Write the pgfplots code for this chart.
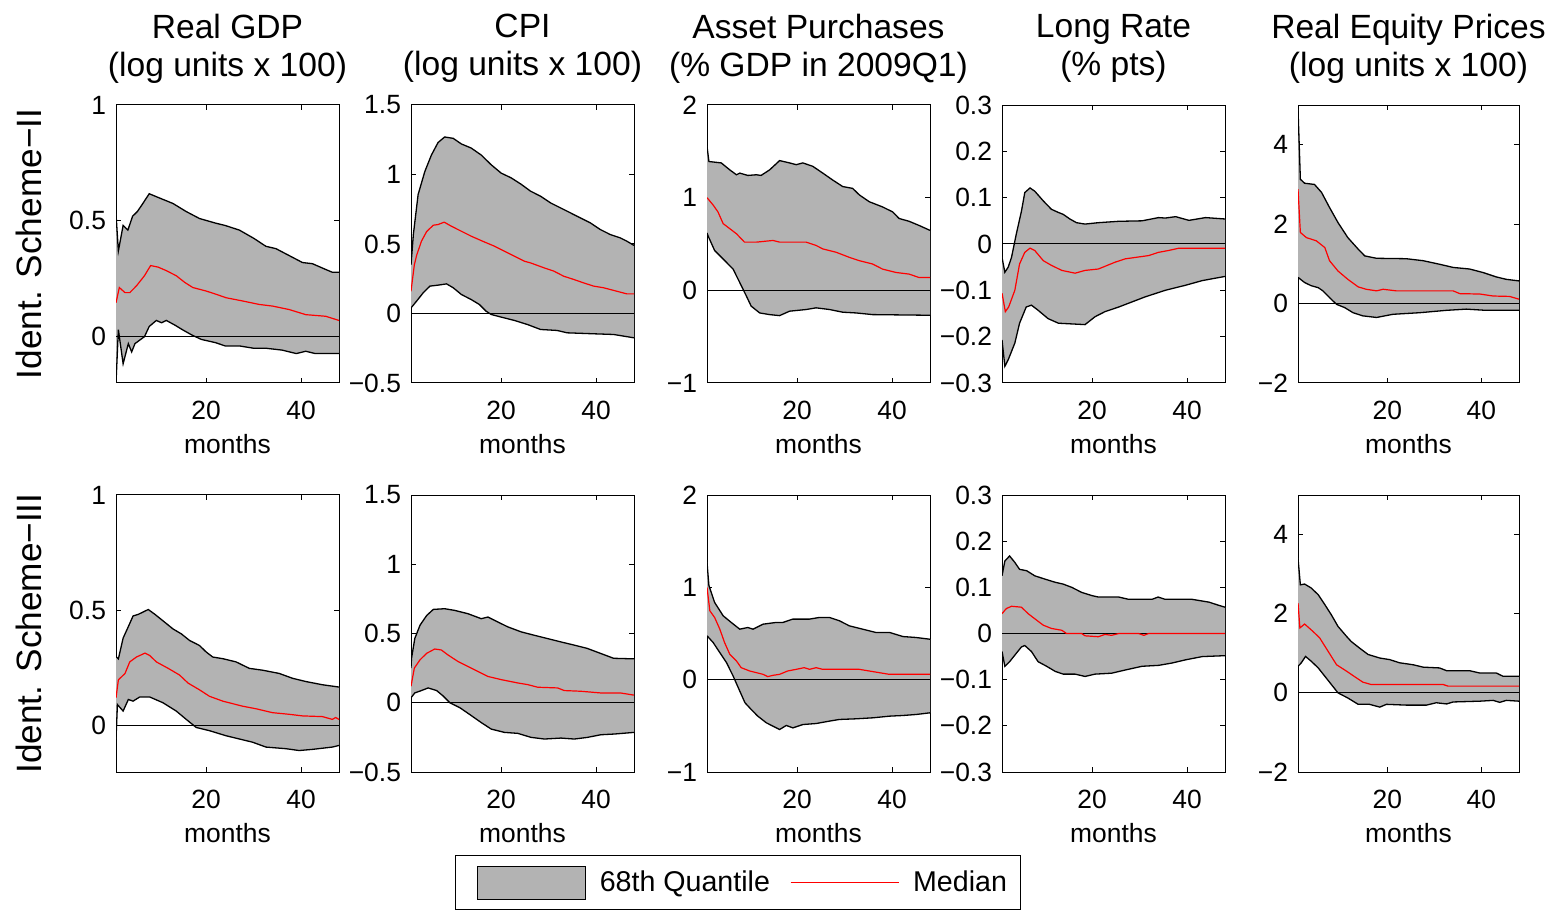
\documentclass[border=0pt]{standalone}
\usepackage{fontspec}
\setmainfont{Liberation Sans}
\usepackage{pgfplots}
\pgfplotsset{compat=1.18}
\usepgfplotslibrary{fillbetween}
\definecolor{bandgray}{RGB}{179,179,179}
\pgfplotsset{
 irf/.style={
  scale only axis, width=111.5pt, height=139pt,
  xmin=1, xmax=48, xtick={20,40}, xticklabels={20,40},
  tick align=inside, major tick length=2.5pt,
  tick style={black, line width=0.5pt},
  axis line style={line width=0.5pt},
  xlabel={months},
  every axis x label/.style={at={(axis description cs:0.5,0)}, anchor=center, yshift=-30.5pt, font=\fontsize{13.2}{15}\selectfont},
  ticklabel style={font=\fontsize{13.2}{15}\selectfont},
  xticklabel shift=5.5pt, yticklabel shift=1.5pt,
  title style={at={(axis description cs:0.5,1.16)}, anchor=center, align=center, font=\fontsize{16.8}{19}\selectfont},
  every axis y label/.style={at={(axis description cs:-0.39,0.5)}, rotate=90, anchor=center, font=\fontsize{17.6}{20}\selectfont},
 },
 bnd/.style={black, line width=0.65pt, forget plot},
 med/.style={red, line width=0.6pt, forget plot},
 zer/.style={black, line width=0.5pt, forget plot},
}
\begin{document}
\begin{tikzpicture}
% ---------------- Row 1 ----------------
\begin{axis}[irf, at={(58pt,-191.5pt)}, anchor=south west,
 ymin=-0.2, ymax=1, ytick={0,0.5,1}, yticklabels={0,0.5,1},
 title={Real GDP\\(log units x 100)}, ylabel={Ident. Scheme−II}]
\addplot[bnd, name path=u1] coordinates {(1,0.53) (1.5,0.37) (2.5,0.48) (3.5,0.46) (4.5,0.52) (5.5,0.54) (6.5,0.57) (8,0.617) (10,0.60) (13,0.575) (15.8,0.54) (18.6,0.51) (22,0.49) (24,0.48) (27,0.46) (30,0.425) (32.6,0.39) (34.7,0.38) (37.5,0.35) (40.3,0.32) (42.4,0.315) (45.2,0.29) (46.6,0.278) (48,0.278)};
\addplot[bnd, name path=l1] coordinates {(1,-0.2) (1.5,0.03) (2.5,-0.117) (3.6,-0.03) (4.3,-0.066) (5,-0.03) (6,-0.015) (7,0) (8,0.044) (9.5,0.07) (10.6,0.06) (11.6,0.07) (13.4,0.05) (15,0.03) (17,0.007) (19,-0.012) (22,-0.026) (24,-0.04) (27,-0.04) (30,-0.05) (32.6,-0.05) (36,-0.058) (39,-0.073) (41,-0.063) (43,-0.073) (48,-0.073)};
\addplot[bandgray, forget plot] fill between[of=u1 and l1];
\addplot[zer] coordinates {(1,0) (48,0)};
\addplot[med] coordinates {(1,0.146) (1.7,0.212) (2.9,0.19) (3.9,0.19) (5.3,0.219) (7,0.263) (8.3,0.307) (9.9,0.30) (11.6,0.285) (13.7,0.263) (15.5,0.234) (17.2,0.212) (20,0.197) (22.1,0.183) (24.2,0.168) (27.7,0.154) (31.2,0.139) (34,0.132) (37.5,0.117) (41,0.095) (45.2,0.088) (48,0.07)};
\end{axis}
\begin{axis}[irf, at={(205.5pt,-191.5pt)}, anchor=south west,
 ymin=-0.5, ymax=1.5, ytick={-0.5,0,0.5,1,1.5}, yticklabels={−0.5,0,0.5,1,1.5},
 title={CPI\\(log units x 100)}]
\addplot[bnd, name path=u2] coordinates {(1,0.35) (1.5,0.57) (2.5,0.856) (3.9,1.02) (5.3,1.14) (6.7,1.23) (8.1,1.27) (9.9,1.26) (11.6,1.22) (13.7,1.19) (15.8,1.14) (17.9,1.07) (20,1.01) (22.1,0.976) (24.2,0.93) (26.2,0.88) (28.3,0.844) (30.4,0.796) (32.5,0.76) (34.6,0.724) (36.7,0.688) (38.8,0.652) (40.9,0.604) (43,0.568) (45.1,0.544) (46.5,0.52) (48,0.49)};
\addplot[bnd, name path=l2] coordinates {(1,0.04) (2.2,0.09) (3.6,0.15) (5,0.197) (6.7,0.204) (8.5,0.213) (9.9,0.185) (11.6,0.137) (13.7,0.10) (15.4,0.065) (16.8,0.017) (17.9,-0.007) (20,-0.026) (22.8,-0.05) (25.6,-0.08) (28.3,-0.115) (31.8,-0.122) (33.9,-0.139) (39.5,-0.146) (43.7,-0.151) (48,-0.175)};
\addplot[bandgray, forget plot] fill between[of=u2 and l2];
\addplot[zer] coordinates {(1,0) (48,0)};
\addplot[med] coordinates {(1,0.16) (1.7,0.35) (2.2,0.42) (3.2,0.52) (4.3,0.59) (5.7,0.635) (6.7,0.64) (8,0.657) (9.5,0.628) (11.6,0.592) (13.7,0.556) (16.1,0.52) (18.6,0.484) (20.7,0.448) (22.8,0.412) (24.9,0.376) (26.2,0.364) (29,0.329) (31.1,0.305) (33.2,0.268) (35.3,0.245) (37.4,0.22) (39.5,0.197) (41.6,0.185) (44.4,0.16) (46.5,0.141) (48,0.141)};
\end{axis}
\begin{axis}[irf, at={(353.5pt,-191.5pt)}, anchor=south west,
 ymin=-1, ymax=2, ytick={-1,0,1,2}, yticklabels={−1,0,1,2},
 title={Asset Purchases\\(\% GDP in 2009Q1)}]
\addplot[bnd, name path=u3] coordinates {(1,1.556) (1.4,1.39) (4,1.375) (5.8,1.30) (7.2,1.247) (7.9,1.265) (9.6,1.24) (11.4,1.247) (12.4,1.24) (14.2,1.30) (16.3,1.40) (18.4,1.375) (19.8,1.356) (21.2,1.375) (23.3,1.338) (25.4,1.265) (27.5,1.19) (29.6,1.12) (31.7,1.10) (33.1,1.03) (35.2,0.956) (38,0.90) (40.1,0.847) (41.5,0.775) (43.6,0.745) (45.7,0.70) (48,0.647)};
\addplot[bnd, name path=l3] coordinates {(1,0.62) (1.2,0.59) (2.6,0.43) (4.4,0.338) (6.5,0.229) (7.9,0.084) (9.3,-0.062) (10.3,-0.17) (12.1,-0.244) (14.2,-0.262) (16.3,-0.273) (18.4,-0.225) (21.9,-0.207) (24,-0.189) (26.8,-0.207) (29.6,-0.236) (32.4,-0.244) (35.9,-0.262) (48,-0.269)};
\addplot[bandgray, forget plot] fill between[of=u3 and l3];
\addplot[zer] coordinates {(1,0) (48,0)};
\addplot[med] coordinates {(1,1.0) (2.3,0.92) (3.3,0.847) (4.4,0.72) (5.8,0.665) (7.2,0.611) (8.9,0.52) (11.4,0.52) (14.9,0.538) (16.3,0.52) (18.4,0.52) (21.9,0.52) (24,0.484) (25.4,0.447) (28.2,0.411) (31,0.356) (33.1,0.32) (35.9,0.284) (38,0.229) (40.8,0.193) (43.6,0.175) (45.7,0.138) (48,0.138)};
\end{axis}
\begin{axis}[irf, at={(501pt,-191.5pt)}, anchor=south west,
 ymin=-0.3, ymax=0.3, ytick={-0.3,-0.2,-0.1,0,0.1,0.2,0.3}, yticklabels={−0.3,−0.2,−0.1,0,0.1,0.2,0.3},
 title={Long Rate\\(\% pts)}]
\addplot[bnd, name path=u4] coordinates {(1,-0.029) (1.6,-0.061) (2.3,-0.05) (3,-0.029) (4,0.021) (5.1,0.071) (5.8,0.111) (6.9,0.121) (7.9,0.114) (9.7,0.093) (11.4,0.075) (12.9,0.068) (13.9,0.064) (15.3,0.054) (16.7,0.046) (18.5,0.043) (21.3,0.046) (25.6,0.049) (30.5,0.05) (34,0.057) (35.4,0.056) (37.6,0.059) (40.4,0.051) (43.9,0.057) (48,0.054)};
\addplot[bnd, name path=l4] coordinates {(1,-0.207) (1.6,-0.264) (2.3,-0.25) (3.7,-0.214) (4.7,-0.171) (6.1,-0.136) (7.2,-0.132) (8.6,-0.143) (10.7,-0.161) (12.9,-0.171) (18.5,-0.174) (20.6,-0.157) (22.7,-0.146) (25.6,-0.136) (28.4,-0.125) (31.2,-0.114) (33.3,-0.107) (35.4,-0.1) (39.7,-0.089) (43.2,-0.079) (48,-0.07)};
\addplot[bandgray, forget plot] fill between[of=u4 and l4];
\addplot[zer] coordinates {(1,0) (48,0)};
\addplot[med] coordinates {(1,-0.106) (1.7,-0.146) (2.4,-0.136) (3.7,-0.1) (4.7,-0.043) (5.8,-0.018) (6.9,-0.009) (7.9,-0.014) (9.7,-0.036) (11.4,-0.046) (13.6,-0.057) (16.4,-0.063) (18.5,-0.057) (21.3,-0.054) (24.9,-0.039) (27,-0.032) (29.1,-0.029) (31.9,-0.025) (34,-0.018) (36.1,-0.014) (38.3,-0.009) (48,-0.009)};
\end{axis}
\begin{axis}[irf, width=110.5pt, at={(649pt,-191.5pt)}, anchor=south west,
 ymin=-2, ymax=5, ytick={-2,0,2,4}, yticklabels={−2,0,2,4},
 title={Real Equity Prices\\(log units x 100)}]
\addplot[bnd, name path=u5] coordinates {(1,4.9) (1.5,3.13) (2.4,3.03) (4.5,3.0) (6,2.8) (7.7,2.42) (9.5,2.04) (11.6,1.66) (13.8,1.37) (15.2,1.2) (17.7,1.14) (24,1.13) (27.6,1.08) (31.1,0.99) (34,0.91) (37.5,0.87) (40.4,0.78) (43.2,0.67) (45.3,0.61) (48,0.57)};
\addplot[bnd, name path=l5] coordinates {(1,0.66) (2.4,0.53) (3.8,0.45) (5.3,0.40) (6.3,0.32) (7.7,0.15) (9.2,-0.02) (10.9,-0.1) (12.7,-0.23) (14.8,-0.31) (17.7,-0.35) (21.2,-0.27) (26.9,-0.23) (32.6,-0.17) (36.8,-0.14) (40.9,-0.17) (48,-0.17)};
\addplot[bandgray, forget plot] fill between[of=u5 and l5];
\addplot[zer] coordinates {(1,0) (48,0)};
\addplot[med] coordinates {(1,2.88) (1.5,1.79) (2.8,1.66) (4.9,1.58) (6.7,1.41) (7.7,1.08) (9.5,0.82) (11.6,0.61) (13.8,0.42) (15.5,0.36) (17.7,0.32) (19.1,0.36) (21.9,0.32) (34,0.32) (35.4,0.25) (39.7,0.24) (42.5,0.19) (46,0.18) (48,0.11)};
\end{axis}
% ---------------- Row 2 ----------------
\begin{axis}[irf, height=138.5pt, at={(58pt,-386pt)}, anchor=south west,
 ymin=-0.2, ymax=1, ytick={0,0.5,1}, yticklabels={0,0.5,1},
 ylabel={Ident. Scheme−III}]
\addplot[bnd, name path=u6] coordinates {(1,0.30) (1.5,0.29) (2.5,0.38) (3.6,0.43) (4.6,0.476) (5.7,0.483) (7.8,0.504) (9.2,0.483) (10.9,0.455) (13,0.42) (14.8,0.398) (16.5,0.37) (18.6,0.348) (20,0.32) (21.4,0.298) (23.5,0.291) (26.3,0.277) (29.1,0.249) (31.9,0.241) (35.4,0.227) (38.2,0.206) (41,0.192) (44.5,0.178) (48,0.168)};
\addplot[bnd, name path=l6] coordinates {(1,-0.057) (1.3,0.092) (2.5,0.064) (3.6,0.114) (4.6,0.107) (6,0.125) (8.1,0.125) (10.9,0.1) (13.7,0.064) (15.8,0.028) (17.9,-0.007) (20.7,-0.021) (24.2,-0.043) (27,-0.057) (29.8,-0.071) (32.6,-0.092) (36.8,-0.099) (39.6,-0.107) (42.4,-0.102) (46.6,-0.092) (48,-0.085)};
\addplot[bandgray, forget plot] fill between[of=u6 and l6];
\addplot[zer] coordinates {(1,0) (48,0)};
\addplot[med] coordinates {(1,0.121) (1.5,0.199) (2.9,0.227) (3.9,0.277) (5.3,0.298) (7.1,0.315) (8.1,0.305) (9.5,0.277) (12,0.249) (14.4,0.22) (16.2,0.185) (18.6,0.156) (20.7,0.128) (23.5,0.107) (27.7,0.085) (30.5,0.074) (34,0.057) (37.5,0.05) (40.3,0.043) (44.5,0.04) (46.6,0.028) (47.3,0.036) (48,0.028)};
\end{axis}
\begin{axis}[irf, height=138.5pt, at={(205.5pt,-386pt)}, anchor=south west,
 ymin=-0.5, ymax=1.5, ytick={-0.5,0,0.5,1,1.5}, yticklabels={−0.5,0,0.5,1,1.5}]
\addplot[bnd, name path=u7] coordinates {(1,0.25) (1.1,0.32) (1.8,0.464) (2.9,0.56) (4.3,0.63) (5.7,0.674) (8.1,0.679) (10.2,0.667) (13,0.643) (15.8,0.607) (17.2,0.619) (19.3,0.583) (21.4,0.548) (24.2,0.512) (26.9,0.488) (29.7,0.464) (32.5,0.44) (35.3,0.417) (38.1,0.393) (40.9,0.357) (43.7,0.321) (48,0.317)};
\addplot[bnd, name path=l7] coordinates {(1,0.036) (1.8,0.071) (3.2,0.088) (4.6,0.107) (6.4,0.088) (7.8,0.048) (9.2,0) (11.3,-0.036) (13.3,-0.083) (15.8,-0.143) (17.9,-0.19) (20.7,-0.214) (23.5,-0.221) (26.3,-0.25) (29.1,-0.262) (32.6,-0.255) (35.4,-0.262) (38.2,-0.25) (41,-0.231) (43.8,-0.226) (48,-0.214)};
\addplot[bandgray, forget plot] fill between[of=u7 and l7];
\addplot[zer] coordinates {(1,0) (48,0)};
\addplot[med] coordinates {(1,0.119) (1.7,0.25) (2.9,0.31) (4.3,0.357) (6,0.388) (7.4,0.381) (8.8,0.345) (10.9,0.298) (13,0.262) (15.1,0.226) (17.2,0.19) (20,0.167) (23.5,0.143) (25.6,0.131) (27.7,0.112) (31.9,0.107) (33.3,0.088) (36.8,0.083) (40.9,0.071) (45.1,0.071) (48,0.055)};
\end{axis}
\begin{axis}[irf, height=138.5pt, at={(353.5pt,-386pt)}, anchor=south west,
 ymin=-1, ymax=2, ytick={-1,0,1,2}, yticklabels={−1,0,1,2},
 legend columns=2,
 legend style={at={(-1.130,-0.2996)}, anchor=north west, draw=black, line width=0.6pt,
   font=\fontsize{14.3}{16}\selectfont, inner xsep=4.8pt, inner ysep=5pt,
   /tikz/every even column/.append style={column sep=8pt},
   /tikz/every odd column/.append style={column sep=5pt}},
 legend cell align=left]
\addplot[bnd, name path=u8] coordinates {(1,1.27) (1.4,1.02) (2.6,0.837) (4.4,0.692) (6.1,0.62) (7.9,0.547) (9.6,0.565) (10.7,0.547) (12.8,0.601) (15.6,0.62) (17,0.62) (19.1,0.656) (22.6,0.656) (24.7,0.674) (26.8,0.674) (28.9,0.638) (31,0.583) (33.8,0.547) (36.6,0.511) (39.5,0.511) (42.3,0.467) (45,0.457) (48,0.438)};
\addplot[bnd, name path=l8] coordinates {(1,0.475) (2.3,0.402) (3.7,0.293) (5.1,0.185) (6.5,0.04) (7.9,-0.123) (9,-0.25) (10.3,-0.322) (11.7,-0.395) (13.5,-0.467) (16.3,-0.54) (17.7,-0.496) (19.1,-0.522) (21.2,-0.486) (24,-0.475) (26.8,-0.449) (28.9,-0.431) (32.4,-0.424) (36,-0.413) (39.5,-0.395) (42.3,-0.388) (45.1,-0.377) (48,-0.359)};
\addplot[bandgray, forget plot] fill between[of=u8 and l8];
\addplot[zer] coordinates {(1,0) (48,0)};
\addplot[med] coordinates {(1,1.0) (1.6,0.746) (2.6,0.674) (3.7,0.547) (4.7,0.402) (5.8,0.275) (7.2,0.203) (8.2,0.13) (10,0.094) (12.8,0.058) (13.8,0.033) (14.9,0.047) (16.3,0.058) (18,0.094) (19.8,0.112) (21.5,0.13) (22.6,0.112) (24,0.13) (25.4,0.112) (33.1,0.112) (37.3,0.076) (39.4,0.058) (48,0.058)};
\addlegendimage{legend image code/.code={\path[draw=none,fill=none] (-6pt,-8.25pt) rectangle (0pt,8.25pt); \draw[fill=bandgray,draw=black,line width=0.6pt] (0pt,-8.25pt) rectangle (54pt,8.25pt);}}
\addlegendentry{68th Quantile}
\addlegendimage{legend image code/.code={\draw[red,line width=0.6pt] (0pt,0pt) -- (54pt,0pt);}}
\addlegendentry{Median}
\end{axis}
\begin{axis}[irf, height=138.5pt, at={(501pt,-386pt)}, anchor=south west,
 ymin=-0.3, ymax=0.3, ytick={-0.3,-0.2,-0.1,0,0.1,0.2,0.3}, yticklabels={−0.3,−0.2,−0.1,0,0.1,0.2,0.3}]
\addplot[bnd, name path=u9] coordinates {(1,0.125) (1.6,0.157) (2.6,0.168) (3.7,0.154) (4.7,0.139) (6.2,0.136) (7.9,0.125) (10,0.118) (12.2,0.111) (13.9,0.107) (15.7,0.1) (17.8,0.089) (20,0.082) (21.3,0.079) (25.6,0.079) (27.7,0.074) (32.6,0.074) (33.9,0.079) (35.4,0.074) (41.1,0.074) (44.6,0.068) (46.7,0.061) (48,0.057)};
\addplot[bnd, name path=l9] coordinates {(1,-0.039) (1.6,-0.071) (2.6,-0.061) (4,-0.043) (5.1,-0.029) (5.8,-0.026) (7.2,-0.039) (8.6,-0.061) (10.4,-0.071) (12.2,-0.082) (13.9,-0.088) (16.4,-0.088) (18.5,-0.093) (20.6,-0.088) (24.1,-0.086) (27,-0.079) (30.5,-0.071) (34,-0.069) (36.8,-0.064) (39.7,-0.057) (43.2,-0.05) (48,-0.048)};
\addplot[bandgray, forget plot] fill between[of=u9 and l9];
\addplot[zer] coordinates {(1,0) (48,0)};
\addplot[med] coordinates {(1,0.043) (1.9,0.054) (3,0.059) (5.1,0.057) (6.5,0.043) (7.9,0.032) (9.7,0.018) (11.4,0.011) (13.6,0.007) (14.6,0) (17.8,0) (18.5,-0.005) (21.3,-0.007) (22.7,-0.002) (24.1,-0.004) (25.6,0) (29.8,0) (30.9,-0.004) (31.9,0) (48,0)};
\end{axis}
\begin{axis}[irf, width=110.5pt, height=138.5pt, at={(649pt,-386pt)}, anchor=south west,
 ymin=-2, ymax=5, ytick={-2,0,2,4}, yticklabels={−2,0,2,4}]
\addplot[bnd, name path=u10] coordinates {(1,3.4) (1.5,2.73) (2.4,2.75) (3.8,2.65) (5.3,2.48) (6.7,2.23) (8.1,1.97) (9.5,1.68) (11.3,1.43) (12.3,1.3) (14.1,1.13) (15.9,0.97) (18.4,0.88) (20.5,0.84) (22.6,0.76) (25.5,0.71) (27.6,0.65) (31.1,0.63) (32.6,0.56) (37.5,0.56) (39.7,0.5) (43.2,0.5) (44.6,0.42) (48,0.42)};
\addplot[bnd, name path=l10] coordinates {(1,0.67) (1.7,0.76) (2.6,0.92) (3.8,0.8) (5.3,0.63) (6.7,0.42) (8.1,0.21) (9.5,0) (11.6,-0.13) (13.8,-0.29) (16.2,-0.29) (18.4,-0.36) (19.8,-0.29) (24.1,-0.31) (28.3,-0.31) (30.4,-0.25) (32.6,-0.28) (34,-0.23) (39.7,-0.21) (42.5,-0.19) (43.9,-0.24) (45.3,-0.19) (48,-0.21)};
\addplot[bandgray, forget plot] fill between[of=u10 and l10];
\addplot[zer] coordinates {(1,0) (48,0)};
\addplot[med] coordinates {(1,2.27) (1.4,1.64) (2.4,1.74) (4.2,1.55) (5.6,1.39) (7.4,1.05) (9.2,0.71) (11.3,0.55) (13.4,0.38) (14.8,0.27) (16.6,0.21) (31.9,0.21) (32.9,0.17) (48,0.17)};
\end{axis}
\pgfresetboundingbox
\path[use as bounding box] (0pt,0pt) rectangle (775.5pt,-456.5pt);
\end{tikzpicture}
\end{document}
